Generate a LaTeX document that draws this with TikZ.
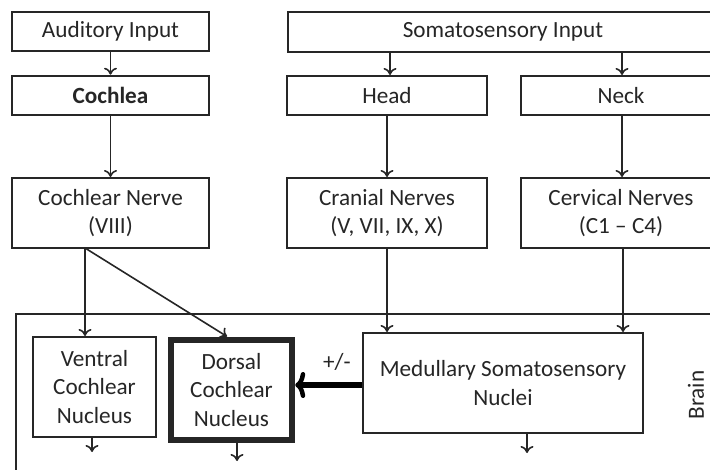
\documentclass[tikz,border=0pt]{standalone}
\usepackage{fontspec}
\setmainfont{Carlito}
\usetikzlibrary{arrows.meta}
\definecolor{txt}{HTML}{262626}
\tikzset{
  box/.style={draw=black!85, line width=2pt, fill=white, inner sep=0pt, align=center, text=txt,
    font=\fontsize{23.2}{28.5}\selectfont},
  conn/.style={draw=black!85, line width=1.6pt, -{To[length=7pt,width=13pt,line width=1.6pt]}},
  thickconn/.style={draw=black, line width=5.5pt, -{To[length=10pt,width=26pt,line width=4.5pt]}},
}
\begin{document}
\begin{tikzpicture}[x=1pt,y=-1pt]
\useasboundingbox (0,0) rectangle (710,470);
\clip (0,0) rectangle (710,470);
% brain frame
\node[box, minimum width=725pt, minimum height=200pt, anchor=north west] (brain) at (15,313) {};
\node[text=txt, rotate=90, font=\fontsize{23.2}{28}\selectfont] (brainlbl) at (696,395) {Brain};
% top row
\node[box, minimum width=197pt, minimum height=39pt] (aud) at (110.5,31.5) {Auditory Input};
\node[box, minimum width=197pt, minimum height=39pt, line width=2.6pt, font=\fontsize{23.2}{28}\selectfont\bfseries] (coch) at (110.5,95.5) {Cochlea};
\node[box, minimum width=197pt, minimum height=70pt] (cn) at (110.5,213) {Cochlear Nerve\\(VIII)};
\node[box, minimum width=430pt, minimum height=40pt, anchor=west] (soma) at (287,32) {Somatosensory Input};
\node[box, minimum width=200pt, minimum height=39pt] (head) at (387,95.5) {Head};
\node[box, minimum width=200pt, minimum height=39pt, anchor=west] (neck) at (520,95.5) {Neck};
\node[box, minimum width=200pt, minimum height=70pt] (cran) at (387,213) {Cranial Nerves\\(V, VII, IX, X)};
\node[box, minimum width=200pt, minimum height=70pt, anchor=west] (cerv) at (520,213) {Cervical Nerves\\(C1 -- C4)};
% brain nodes
\node[box, minimum width=123pt, minimum height=100pt] (vcn) at (94.5,387) {Ventral\\Cochlear\\Nucleus};
\node[box, minimum width=121pt, minimum height=100pt, line width=6.5pt] (dcn) at (231.5,390) {Dorsal\\Cochlear\\Nucleus};
\node[box, minimum width=280pt, minimum height=100pt] (med) at (503,383) {Medullary Somatosensory\\Nuclei};
% coordinates
\coordinate (cnb) at (85,248);
\coordinate (vb) at (92,452);
\coordinate (db) at (237,461);
\coordinate (mb) at (527,453);
% connectors
\draw[conn] (aud.south) -- (coch.north);
\draw[conn] (coch.south) -- (cn.north);
\draw[conn] (soma.south -| 390,0) -- (head.north -| 390,0);
\draw[conn] (soma.south -| 622,0) -- (neck.north -| 622,0);
\draw[conn] (head.south) -- (cran.north);
\draw[conn] (neck.south -| 622,0) -- (cerv.north -| 622,0);
\draw[conn] (cran.south) -- (cran.south |- med.north);
\draw[conn] (cerv.south -| 623,0) -- (med.north -| 623,0);
\draw[conn] (cnb) -- (cnb |- vcn.north);
\draw[conn] (cnb) -- (227,336.5);
\draw[thickconn] (med.west |- 0,385) -- (dcn.east |- 0,385);
\node[text=txt, font=\fontsize{23.2}{28}\selectfont] (pm) at (337,362) {+/-};
\draw[conn] (vcn.south -| vb) -- (vb);
\draw[conn] (dcn.south -| db) -- (db);
\draw[conn] (med.south -| mb) -- (mb);
\end{tikzpicture}
\end{document}
